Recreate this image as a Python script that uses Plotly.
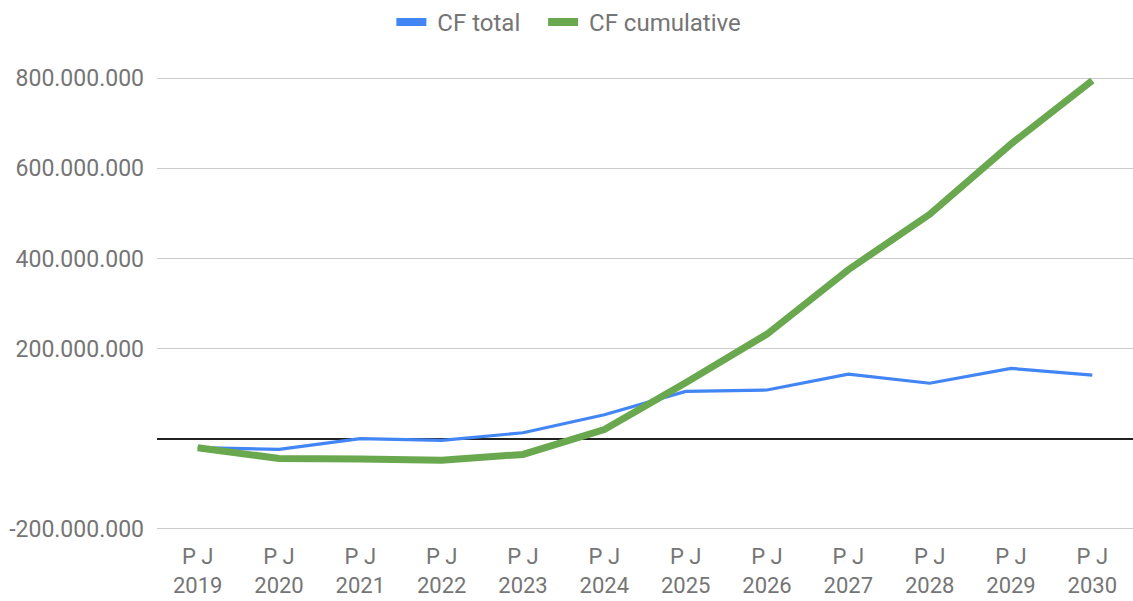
import plotly.graph_objects as go

# Yearly cash flow (P J = plan year)
years = ["2019", "2020", "2021", "2022", "2023", "2024",
         "2025", "2026", "2027", "2028", "2029", "2030"]
cf_total = [-20e6, -24e6, 0, -4e6, 13e6, 53e6,
            105e6, 108e6, 143e6, 123e6, 156e6, 141e6]
cf_cumulative = [-20e6, -44e6, -45e6, -48e6, -35e6, 20e6,
                 124e6, 232e6, 375e6, 498e6, 654e6, 795e6]

y_ticks = [-200e6, 200e6, 400e6, 600e6, 800e6]

BLUE = "#4285f4"
GREEN = "#6aa84f"
TEXT = "#757575"
FONT = "Roboto"
NB = "\u00a0"


def fmt(v):
    return f"{int(v):,}".replace(",", ".")


categories = [f"P J<br>{y}" for y in years]

fig = go.Figure()

fig.add_trace(go.Scatter(x=categories, y=cf_total, mode="lines",
                         line=dict(color=BLUE, width=3.2),
                         name="CF total", showlegend=False,
                         legendgroup="t", hoverinfo="x+y"))
fig.add_trace(go.Scatter(x=categories, y=cf_cumulative, mode="lines",
                         line=dict(color=GREEN, width=7),
                         name="CF cumulative", showlegend=False,
                         legendgroup="c", hoverinfo="x+y"))

# legend swatches of equal thickness for both series
fig.add_trace(go.Scatter(x=[None], y=[None], mode="lines",
                         line=dict(color=BLUE, width=8),
                         name=NB + "CF total" + NB * 3, legendgroup="t"))
fig.add_trace(go.Scatter(x=[None], y=[None], mode="lines",
                         line=dict(color=GREEN, width=8),
                         name=NB + "CF cumulative", legendgroup="c"))

fig.update_layout(
    width=1133, height=601,
    margin=dict(l=157, r=0, t=75, b=70),
    paper_bgcolor="white", plot_bgcolor="white",
    font=dict(family=FONT, size=22, color=TEXT),
    legend=dict(orientation="h", x=0.422, xanchor="center",
                y=1.118, yanchor="middle",
                font=dict(family=FONT, size=24, color=TEXT),
                traceorder="normal"),
    hovermode="closest",
)

fig.update_xaxes(
    type="category", range=[-0.5, 11.5],
    showgrid=False, zeroline=False, showline=False, ticks="",
    tickfont=dict(family=FONT, size=22, color=TEXT),
    ticklabelstandoff=10,
)
fig.update_yaxes(
    range=[-205e6, 805e6],
    tickvals=y_ticks, ticktext=[fmt(v) for v in y_ticks],
    showgrid=True, gridcolor="#cccccc", gridwidth=1,
    zeroline=True, zerolinecolor="#222222", zerolinewidth=1.5,
    showline=False, ticks="",
    tickfont=dict(family=FONT, size=23, color=TEXT),
    ticklabelstandoff=12,
)

fig.write_html("out.html")
